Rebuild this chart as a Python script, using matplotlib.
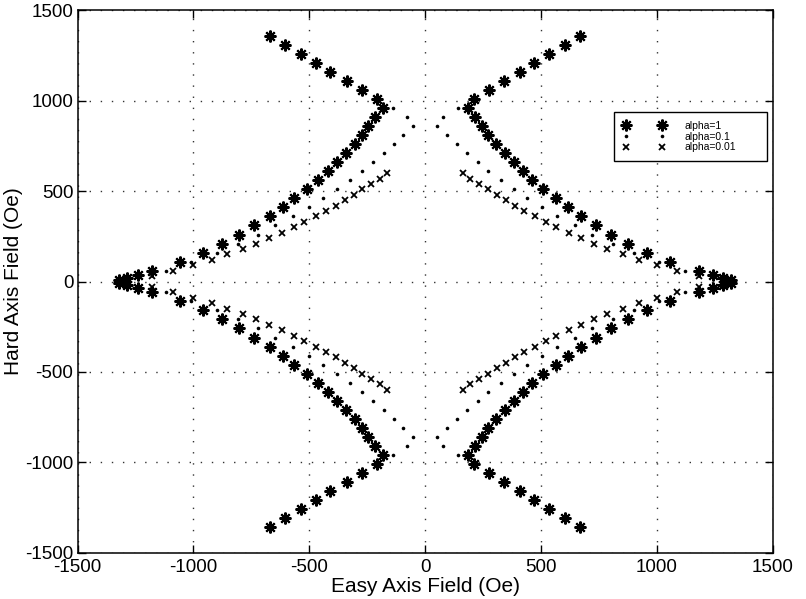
import matplotlib
matplotlib.use("Agg")
import matplotlib.pyplot as plt
import numpy as np

plt.rcParams['font.family'] = ['Liberation Sans', 'DejaVu Sans']

# Upper-left quadrant readings (the figure is mirror-symmetric in both axes)
star_x = [-669, -605, -536, -470, -409, -338, -273, -210, -184, -216, -246, -272,
          -305, -342, -381, -421, -462, -509, -565, -614, -670, -738, -802, -876,
          -958, -1057, -1179, -1240, -1285, -1320]
star_y = [1360, 1310, 1260, 1210, 1160, 1110, 1060, 1010, 960, 910, 860, 810,
          760, 710, 660, 610, 560, 510, 460, 410, 360, 310, 260, 210,
          160, 110, 60, 35, 20, 8]

dot_x = [-141, -78, -52, -95, -135, -180, -226, -272, -325, -381, -441, -503,
         -569, -647, -720, -808, -899, -1009, -1120, -1310]
dot_y = [960, 910, 860, 810, 760, 710, 660, 610, 560, 510, 460, 410,
         360, 310, 260, 210, 160, 110, 60, 10]

cross_x = [-163, -195, -232, -272, -309, -348, -387, -426, -473, -522, -566,
           -620, -673, -729, -785, -854, -922, -1001, -1087, -1180, -1300]
cross_y = [600, 570, 540, 510, 480, 450, 420, 390, 360, 330, 300,
           270, 240, 210, 180, 150, 120, 90, 60, 30, 0]

labels = ['alpha=1', 'alpha=0.1', 'alpha=0.01']
xticks = [-1500, -1000, -500, 0, 500, 1000, 1500]
yticks = [-1500, -1000, -500, 0, 500, 1000, 1500]


def mirror(xs, ys):
    xs = np.asarray(xs, float)
    ys = np.asarray(ys, float)
    X = np.concatenate([xs, -xs, xs, -xs])
    Y = np.concatenate([ys, ys, -ys, -ys])
    return X, Y


fig = plt.figure(figsize=(8.06, 5.99), dpi=100)
ax = fig.add_axes([0.0962, 0.0776, 0.959 - 0.0962, 0.9825 - 0.0776])

X, Y = mirror(star_x, star_y)
ax.plot(X, Y, linestyle='none', marker=(8, 2, 0), markersize=8.5, mew=1.5,
        color='black', label=labels[0])
X, Y = mirror(dot_x, dot_y)
ax.plot(X, Y, linestyle='none', marker='o', markersize=2.6, mew=0,
        color='black', label=labels[1])
X, Y = mirror(cross_x, cross_y)
ax.plot(X, Y, linestyle='none', marker='x', markersize=4, mew=1.3,
        color='black', label=labels[2])

ax.set_xlim(-1500, 1500)
ax.set_ylim(-1500, 1500)
ax.set_xticks(xticks)
ax.set_yticks(yticks)
ax.set_xticklabels([str(v) for v in xticks])
ax.set_yticklabels([str(v) for v in yticks])
ax.tick_params(direction='in', length=6, width=1, top=True, right=True,
               labelsize=13.5)
ax.tick_params(axis='x', pad=5)
ax.tick_params(axis='y', pad=3)
ax.grid(True, color='#333333', linestyle=(0, (1, 7)), linewidth=1.0)
for s in ax.spines.values():
    s.set_linewidth(1.1)

ax.set_xlabel('Easy Axis Field (Oe)', fontsize=15)
ax.set_ylabel('Hard Axis Field (Oe)', fontsize=15)
ax.xaxis.set_label_coords(0.5, -0.045)
ax.yaxis.set_label_coords(-0.078, 0.5)

leg = ax.legend(loc='upper left', bbox_to_anchor=(0.771, 0.726, 0.22, 0.087),
                mode='expand', borderaxespad=0, numpoints=2, fontsize=7.5,
                handlelength=4.1, handletextpad=1.8, labelspacing=0.08,
                borderpad=0.85, fancybox=False, framealpha=1,
                edgecolor='black')
leg.get_frame().set_linewidth(1.0)

fig.savefig('out.png', dpi=100)
